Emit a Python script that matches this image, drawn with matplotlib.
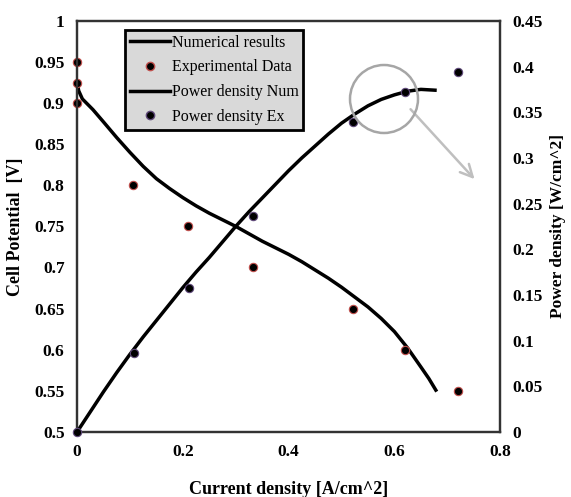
import numpy as np
import matplotlib
matplotlib.use("Agg")
import matplotlib.pyplot as plt
from matplotlib.lines import Line2D
from matplotlib.patches import Circle

plt.rcParams["font.family"] = "Liberation Serif"

# --- Data ----------------------------------------------------------------------

# numerical polarization curve
i_num = [0.0, 0.003, 0.01, 0.03, 0.05, 0.075, 0.1, 0.125, 0.15, 0.175, 0.2,
         0.225, 0.25, 0.275, 0.3, 0.325, 0.35, 0.375, 0.4, 0.425, 0.45,
         0.475, 0.5, 0.525, 0.55, 0.575, 0.6, 0.625, 0.65, 0.665, 0.68]
v_num = [0.926, 0.915, 0.905, 0.892, 0.877, 0.858, 0.840, 0.823, 0.808,
         0.796, 0.785, 0.775, 0.766, 0.758, 0.750, 0.741, 0.732, 0.724,
         0.716, 0.707, 0.697, 0.687, 0.676, 0.664, 0.652, 0.638, 0.622,
         0.602, 0.579, 0.565, 0.549]

# experimental polarization data
i_exp = [0.0, 0.0, 0.0, 0.106, 0.21, 0.333, 0.521, 0.62, 0.72]
v_exp = [0.95, 0.925, 0.9, 0.80, 0.75, 0.70, 0.65, 0.60, 0.55]

# numerical power density curve
i_pnum = [0.0, 0.025, 0.05, 0.075, 0.1, 0.125, 0.15, 0.175, 0.2, 0.225,
          0.25, 0.275, 0.3, 0.325, 0.35, 0.375, 0.4, 0.425, 0.45, 0.475,
          0.5, 0.525, 0.55, 0.575, 0.6, 0.625, 0.65, 0.68]
p_num = [0.0, 0.022, 0.044, 0.065, 0.085, 0.104, 0.122, 0.140, 0.158, 0.175,
         0.191, 0.208, 0.225, 0.241, 0.256, 0.271, 0.286, 0.300, 0.313,
         0.326, 0.338, 0.348, 0.357, 0.364, 0.369, 0.373, 0.375, 0.374]

# experimental power density
i_pexp = [0.0, 0.107, 0.211, 0.333, 0.521, 0.62, 0.72]
p_exp = [0.0, 0.086, 0.158, 0.236, 0.339, 0.372, 0.394]

# --- Figure --------------------------------------------------------------------

fig = plt.figure(figsize=(5.71, 4.97), dpi=100)
ax = fig.add_axes([0.135, 0.131, 0.741, 0.827])
ax2 = ax.twinx()

ax.plot(i_num, v_num, color="k", linewidth=2.5, zorder=3,
        solid_joinstyle="round", solid_capstyle="butt")
ax.plot(i_exp, v_exp, linestyle="none", marker="o", markersize=6,
        markerfacecolor="k", markeredgecolor="#c0504d", markeredgewidth=0.8,
        zorder=4, clip_on=False)
ax2.plot(i_pnum, p_num, color="k", linewidth=2.5, zorder=3,
         solid_joinstyle="round", solid_capstyle="butt")
ax2.plot(i_pexp, p_exp, linestyle="none", marker="o", markersize=6,
         markerfacecolor="k", markeredgecolor="#604a7b", markeredgewidth=0.8,
         zorder=4, clip_on=False)

ax.set_xlim(0, 0.8)
ax.set_ylim(0.5, 1.0)
ax2.set_ylim(0, 0.45)
ax.set_xticks([0, 0.2, 0.4, 0.6, 0.8])
ax.set_xticklabels(["0", "0.2", "0.4", "0.6", "0.8"])
ax.set_yticks(np.arange(0.5, 1.001, 0.05))
ax.set_yticklabels(["0.5", "0.55", "0.6", "0.65", "0.7", "0.75", "0.8",
                    "0.85", "0.9", "0.95", "1"])
ax2.set_yticks(np.arange(0, 0.451, 0.05))
ax2.set_yticklabels(["0", "0.05", "0.1", "0.15", "0.2", "0.25", "0.3",
                     "0.35", "0.4", "0.45"])

for a in (ax, ax2):
    a.tick_params(length=0, labelsize=12.5, pad=9)
    for lbl in a.get_xticklabels() + a.get_yticklabels():
        lbl.set_fontweight("bold")
    for s in a.spines.values():
        s.set_color("#333333")
        s.set_linewidth(1.6)

ax.set_xlabel("Current density [A/cm^2]", fontsize=13, fontweight="bold",
              labelpad=15)
ax.set_ylabel("Cell Potential  [V]", fontsize=13, fontweight="bold",
              labelpad=7)
ax2.set_ylabel("Power density [W/cm^2]", fontsize=12.5, fontweight="bold",
               labelpad=5)

# highlight circle and arrow around the power maximum
circ = Circle((384, 398), 34, transform=None, fill=False,
              edgecolor="#a6a6a6", linewidth=1.8, zorder=5)
fig.patches.append(circ)
ax.annotate("", xy=(0.755, 0.805), xytext=(0.627, 0.895),
            xycoords="data", textcoords="data",
            arrowprops=dict(arrowstyle="->", color="#bfbfbf", linewidth=1.8,
                            mutation_scale=22), zorder=5)

handles = [
    Line2D([], [], color="k", linewidth=2.5),
    Line2D([], [], linestyle="none", marker="o", markersize=6,
           markerfacecolor="k", markeredgecolor="#c0504d"),
    Line2D([], [], color="k", linewidth=2.5),
    Line2D([], [], linestyle="none", marker="o", markersize=6,
           markerfacecolor="k", markeredgecolor="#604a7b"),
]
labels = ["Numerical results", "Experimental Data", "Power density Num",
          "Power density Ex"]
leg = ax2.legend(handles, labels, loc="upper left",
                 bbox_to_anchor=(0.114, 0.978), fontsize=11.5, fancybox=False,
                 framealpha=1, facecolor="#d9d9d9", edgecolor="k",
                 handlelength=2.5, handletextpad=0.1, borderpad=0.3,
                 labelspacing=0.55, borderaxespad=0)
leg.get_frame().set_linewidth(2)

fig.savefig("out.png", dpi=100)
